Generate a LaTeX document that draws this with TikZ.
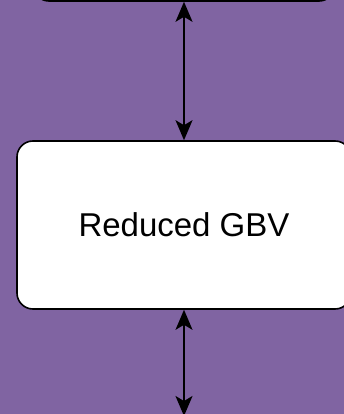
\documentclass[tikz,border=0pt]{standalone}
\usepackage{fontspec}
\setmainfont{Liberation Sans}
\usetikzlibrary{arrows.meta, positioning}
\definecolor{bgpurple}{RGB}{128,100,162}

\begin{document}
\begin{tikzpicture}[x=1pt, y=-1pt,
    block/.style={draw=black, line width=1.6pt, fill=white, rounded corners=16pt,
        minimum width=334pt, minimum height=168pt, inner sep=0pt,
        font=\fontsize{33}{40}\selectfont},
    link/.style={line width=1.6pt, {Stealth[length=20pt, width=17pt, inset=5pt]}-{Stealth[length=20pt, width=17pt, inset=5pt]}}]
            \fill[bgpurple] (0, 0) rectangle (344, 414);
            \useasboundingbox (0, 0) rectangle (344, 414);
            \node[block, minimum width=302pt, minimum height=100pt] (prev) at (184, -49) {};
            \node[block] (gbv) at (184, 225) {Reduced GBV};
            \coordinate (next) at (184, 416);
            \draw[link] (prev.south) -- (gbv.north);
            \draw[link] (gbv.south) -- (next);
        \end{tikzpicture}
\end{document}
